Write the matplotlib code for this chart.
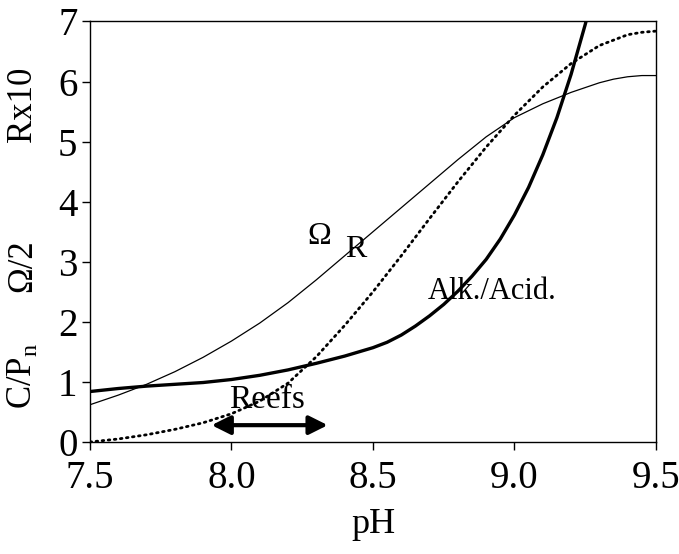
import numpy as np
import matplotlib
matplotlib.use("Agg")
import matplotlib.pyplot as plt

plt.rcParams['font.family'] = ['Liberation Serif', 'DejaVu Serif']
plt.rcParams['mathtext.fontset'] = 'custom'
plt.rcParams['mathtext.rm'] = 'Liberation Serif'

# omega / 2 (thin solid)
ph_om = [7.5, 7.6, 7.7, 7.8, 7.9, 8.0, 8.1, 8.2, 8.3, 8.4, 8.5,
         8.6, 8.7, 8.8, 8.9, 9.0, 9.1, 9.2, 9.3, 9.35, 9.4, 9.45, 9.5]
omega = [0.62, 0.78, 0.96, 1.17, 1.41, 1.68, 1.98, 2.32, 2.70, 3.10, 3.50,
         3.90, 4.30, 4.70, 5.08, 5.40, 5.63, 5.82, 5.98, 6.04, 6.08, 6.10, 6.10]

# R x 10 (dotted)
ph_r = [7.5, 7.6, 7.7, 7.8, 7.9, 8.0, 8.1, 8.2, 8.3, 8.4, 8.5,
        8.6, 8.7, 8.8, 8.9, 9.0, 9.1, 9.2, 9.3, 9.4, 9.45, 9.5]
r10 = [0.0, 0.05, 0.12, 0.21, 0.32, 0.47, 0.68, 0.98, 1.42, 1.94, 2.50,
       3.10, 3.72, 4.33, 4.91, 5.44, 5.91, 6.30, 6.60, 6.78, 6.82, 6.84]

# C/Pn = Alk./Acid. (thick solid)
ph_cp = [7.5, 7.6, 7.7, 7.8, 7.9, 8.0, 8.1, 8.2, 8.3, 8.4, 8.5, 8.55, 8.6,
         8.65, 8.7, 8.75, 8.8, 8.85, 8.9, 8.95, 9.0, 9.05, 9.1, 9.15, 9.2,
         9.25, 9.28]
cpn = [0.84, 0.89, 0.93, 0.96, 0.99, 1.04, 1.11, 1.20, 1.31, 1.43, 1.57, 1.66, 1.78,
       1.93, 2.10, 2.29, 2.51, 2.76, 3.04, 3.38, 3.78, 4.24, 4.78, 5.40, 6.12,
       6.95, 7.50]

reef_range = [7.92, 8.35]

fig = plt.figure(figsize=(6.79, 5.54), dpi=100)
ax = fig.add_axes([0.1325, 0.2022, 0.8336, 0.759])

ax.plot(ph_om, omega, color='black', lw=0.9)
ax.plot(ph_r, r10, color='black', lw=2.0, linestyle=(0, (0.6, 1.6)),
        dash_capstyle='round')
ax.plot(ph_cp, cpn, color='black', lw=2.4)

ax.annotate('', xy=(reef_range[0], 0.28), xytext=(reef_range[1], 0.28),
            arrowprops=dict(arrowstyle='<|-|>', color='black', lw=3.0,
                            mutation_scale=28))
ax.text(sum(reef_range) / 2 - 0.01, 0.45, 'Reefs', fontsize=24, ha='center', va='bottom')
ax.text(8.31, 3.42, 'Ω', fontsize=23, ha='center', va='center')
ax.text(8.44, 3.2, 'R', fontsize=23, ha='center', va='center')
ax.text(8.92, 2.5, 'Alk./Acid.', fontsize=22, ha='center', va='center')

ax.set_xlim(7.5, 9.5)
ax.set_ylim(0, 7)
ax.set_xticks([7.5, 8.0, 8.5, 9.0, 9.5])
ax.set_xticklabels(['7.5', '8.0', '8.5', '9.0', '9.5'])
ax.set_yticks(range(8))
ax.tick_params(labelsize=28, length=6, width=1.0)
ax.tick_params(axis='x', pad=7)
ax.tick_params(axis='y', pad=3)
for s in ax.spines.values():
    s.set_linewidth(1.0)

ax.set_xlabel('pH', fontsize=26, labelpad=8)
fig.text(0.033, 1 - 376 / 554, 'C/P$_\\mathregular{n}$',
         rotation=90, fontsize=25, ha='center', va='center')
fig.text(0.033, 1 - 266 / 554, 'Ω/2', rotation=90, fontsize=25,
         ha='center', va='center')
fig.text(0.033, 1 - 104 / 554, 'Rx10', rotation=90, fontsize=25,
         ha='center', va='center')

fig.savefig('out.png', dpi=100)
